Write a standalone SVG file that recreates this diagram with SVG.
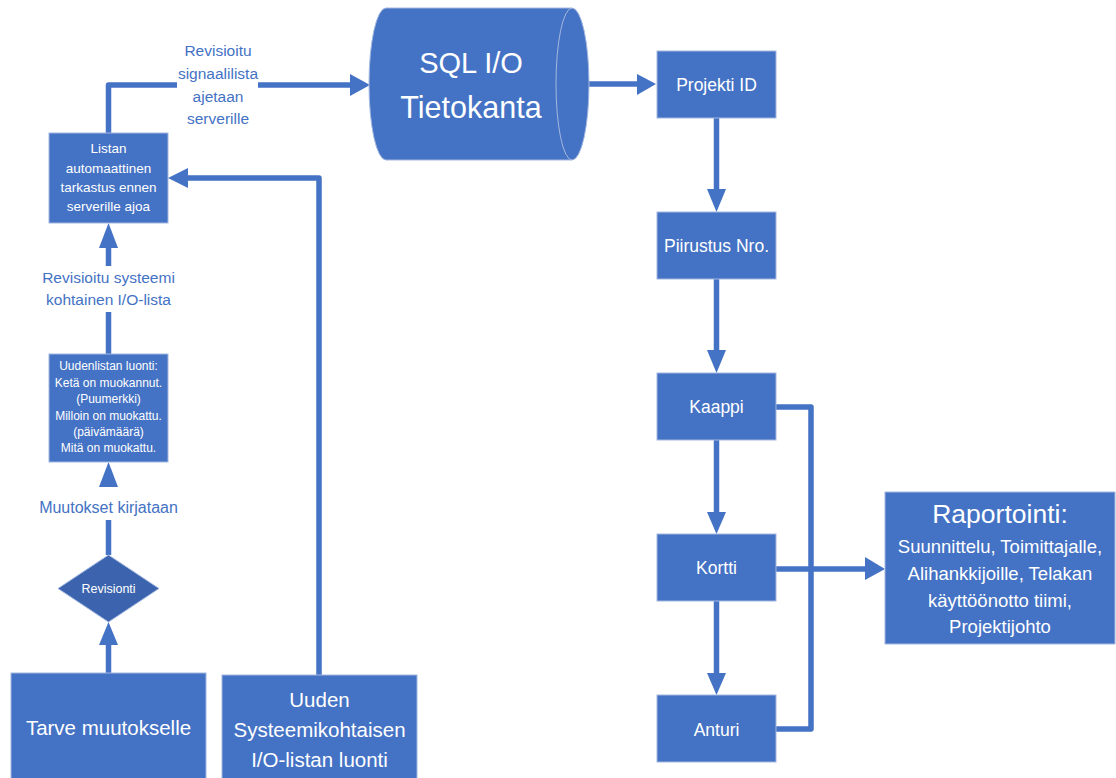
<svg xmlns="http://www.w3.org/2000/svg" width="1116" height="778" viewBox="0 0 1116 778">
<style>
.box{fill:#4472C4;stroke:#A3B8E0;stroke-width:1}
.dia{fill:#3C64AE;stroke:#A3B8E0;stroke-width:1}
.wt{fill:#ffffff;font-family:"Liberation Sans",Arial,sans-serif;text-anchor:middle}
.lb{fill:#4472C4;font-family:"Liberation Sans",Arial,sans-serif;text-anchor:middle}
.ln{fill:none;stroke:#4472C4;stroke-width:5.5;stroke-linejoin:round}
.ah{fill:#4472C4}
</style>
<rect width="1116" height="778" fill="#ffffff"/>
<g id="connectors">
<!-- Listan -> SQL -->
<polyline class="ln" points="108.5,133 108.5,85 177,85"/>
<line class="ln" x1="258" y1="85" x2="352" y2="85"/>
<polygon class="ah" points="350,74 370,85 350,96"/>
<!-- Uuden -> Listan -->
<polyline class="ln" points="319,675 319,178 186,178"/>
<polygon class="ah" points="188,168 168,178 188,188"/>
<!-- Uudenlistan -> Listan -->
<line class="ln" x1="108.5" y1="354" x2="108.5" y2="312"/>
<line class="ln" x1="108.5" y1="266" x2="108.5" y2="245"/>
<polygon class="ah" points="99,248 108.5,223 118,248"/>
<!-- Revisionti -> Uudenlistan -->
<line class="ln" x1="108.5" y1="555" x2="108.5" y2="520"/>
<polygon class="ah" points="99,487 108.5,462 118,487"/>
<!-- Tarve -> Revisionti -->
<line class="ln" x1="108.5" y1="673" x2="108.5" y2="642"/>
<polygon class="ah" points="99,645 108.5,622 118,645"/>
<!-- SQL -> Projekti -->
<line class="ln" x1="588" y1="84" x2="639" y2="84"/>
<polygon class="ah" points="637,74 656,84 637,95"/>
<!-- Projekti -> Piirustus -->
<line class="ln" x1="716.5" y1="118" x2="716.5" y2="192"/>
<polygon class="ah" points="707,189 716.5,212 726,189"/>
<!-- Piirustus -> Kaappi -->
<line class="ln" x1="716.5" y1="279" x2="716.5" y2="352"/>
<polygon class="ah" points="707,350 716.5,373 726,350"/>
<!-- Kaappi -> Kortti -->
<line class="ln" x1="716.5" y1="440" x2="716.5" y2="514"/>
<polygon class="ah" points="707,512 716.5,534 726,512"/>
<!-- Kortti -> Anturi -->
<line class="ln" x1="716.5" y1="601" x2="716.5" y2="675"/>
<polygon class="ah" points="707,673 716.5,695 726,673"/>
<!-- bracket -->
<polyline class="ln" points="776,407 811,407 811,729 776,729"/>
<!-- Kortti -> Raportointi -->
<line class="ln" x1="776" y1="569" x2="867" y2="569"/>
<polygon class="ah" points="865,557 885,569 865,580"/>
</g>
<g id="label-signaalilista">
<text class="lb" font-size="15.5" x="218" y="56">Revisioitu</text>
<text class="lb" font-size="15.5" x="218" y="79">signaalilista</text>
<text class="lb" font-size="15.5" x="218" y="102">ajetaan</text>
<text class="lb" font-size="15.5" x="218" y="124">serverille</text>
</g>
<g id="label-systeemi">
<text class="lb" font-size="15.5" x="108.5" y="283">Revisioitu systeemi</text>
<text class="lb" font-size="15.5" x="108.5" y="305">kohtainen I/O-lista</text>
</g>
<g id="label-muutokset">
<text class="lb" font-size="16" x="108.5" y="513">Muutokset kirjataan</text>
</g>
<g id="sql">
<path class="box" d="M386,8 L572,8 A17,76 0 0 1 572,160 L386,160 A17,76 0 0 1 386,8 Z"/>
<path d="M572,8 A16,76 0 0 0 572,160" fill="none" stroke="#A3B8E0" stroke-width="1"/>
<text class="wt" font-size="29" x="471" y="73">SQL I/O</text>
<text class="wt" font-size="30.5" x="471" y="118">Tietokanta</text>
</g>
<g id="listan">
<rect class="box" x="49" y="133" width="119" height="90"/>
<text class="wt" font-size="13.5" x="108.5" y="153">Listan</text>
<text class="wt" font-size="13.5" x="108.5" y="173">automaattinen</text>
<text class="wt" font-size="13.5" x="108.5" y="192">tarkastus ennen</text>
<text class="wt" font-size="13.5" x="108.5" y="211">serverille ajoa</text>
</g>
<g id="uudenlistan">
<rect class="box" x="49" y="354" width="119" height="108"/>
<text class="wt" font-size="12" x="108.5" y="370">Uudenlistan luonti:</text>
<text class="wt" font-size="12" x="108.5" y="387">Ketä on muokannut.</text>
<text class="wt" font-size="12" x="108.5" y="403">(Puumerkki)</text>
<text class="wt" font-size="12" x="108.5" y="420">Milloin on muokattu.</text>
<text class="wt" font-size="12" x="108.5" y="436">(päivämäärä)</text>
<text class="wt" font-size="12" x="108.5" y="452">Mitä on muokattu.</text>
</g>
<g id="revisionti">
<polygon class="dia" points="108.5,555 159,588.5 108.5,622 58,588.5"/>
<text class="wt" font-size="12.5" x="108.5" y="593">Revisionti</text>
</g>
<g id="tarve">
<rect class="box" x="11" y="673" width="195" height="110"/>
<text class="wt" font-size="20.5" x="108.5" y="735">Tarve muutokselle</text>
</g>
<g id="uuden">
<rect class="box" x="222" y="675" width="195" height="110"/>
<text class="wt" font-size="20.5" x="319.5" y="707">Uuden</text>
<text class="wt" font-size="20.5" x="319.5" y="737">Systeemikohtaisen</text>
<text class="wt" font-size="20.5" x="319.5" y="767">I/O-listan luonti</text>
</g>
<g id="projekti">
<rect class="box" x="657" y="51" width="119" height="67"/>
<text class="wt" font-size="17.5" x="716.5" y="91">Projekti ID</text>
</g>
<g id="piirustus">
<rect class="box" x="657" y="212" width="119" height="67"/>
<text class="wt" font-size="17.5" x="716.5" y="252">Piirustus Nro.</text>
</g>
<g id="kaappi">
<rect class="box" x="657" y="373" width="119" height="67"/>
<text class="wt" font-size="17.5" x="716.5" y="413">Kaappi</text>
</g>
<g id="kortti">
<rect class="box" x="657" y="534" width="119" height="67"/>
<text class="wt" font-size="17.5" x="716.5" y="574">Kortti</text>
</g>
<g id="anturi">
<rect class="box" x="657" y="695" width="119" height="67"/>
<text class="wt" font-size="17.5" x="716.5" y="736">Anturi</text>
</g>
<g id="raportointi">
<rect class="box" x="885" y="492" width="230" height="152"/>
<text class="wt" font-size="26.5" x="1000" y="523">Raportointi:</text>
<text class="wt" font-size="18.5" x="1000" y="553">Suunnittelu, Toimittajalle,</text>
<text class="wt" font-size="18.5" x="1000" y="580">Alihankkijoille, Telakan</text>
<text class="wt" font-size="18.5" x="1000" y="607">käyttöönotto tiimi,</text>
<text class="wt" font-size="18.5" x="1000" y="633">Projektijohto</text>
</g>
</svg>
